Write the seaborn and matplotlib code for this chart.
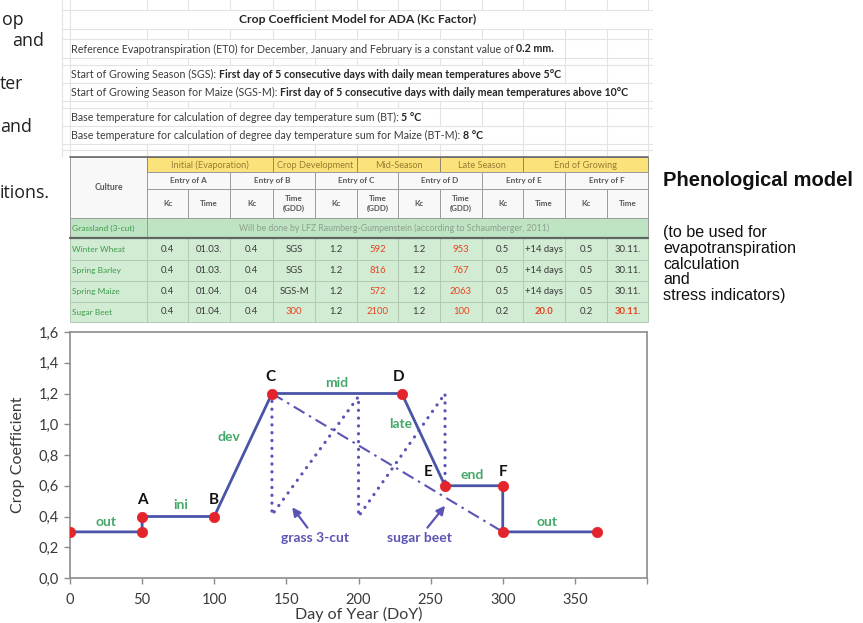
import matplotlib
matplotlib.use("Agg")
import matplotlib.pyplot as plt
import seaborn as sns
import pandas as pd
from matplotlib.patches import Rectangle

sns.set_theme(style="white")
plt.rcParams["font.family"] = ["Lato", "DejaVu Sans"]

# ---------------- Kc curve data ----------------
kc_doy = [0, 50, 50, 100, 140, 230, 260, 300, 300, 365]
kc_val = [0.3, 0.3, 0.4, 0.4, 1.2, 1.2, 0.6, 0.6, 0.3, 0.3]
grass_doy = [140, 140, 200, 200, 260, 260]
grass_val = [1.2, 0.41, 1.18, 0.40, 1.2, 0.6]
beet_doy = [140, 300]
beet_val = [1.2, 0.3]

stage_letters = ["A", "B", "C", "D", "E", "F"]
phase_names = ["out", "ini", "dev", "mid", "late", "end", "out"]
x_ticks = [0, 50, 100, 150, 200, 250, 300, 350, 400]
y_ticks = [0.0, 0.2, 0.4, 0.6, 0.8, 1.0, 1.2, 1.4, 1.6]

# ---------------- spreadsheet content ----------------
sheet_title = "Crop Coefficient Model for ADA (Kc Factor)"
sheet_notes = [
    [("Reference Evapotranspiration (ET0) for December, January and February is a constant value of", False),
     ("0.2 mm.", True)],
    [("Start of Growing Season (SGS):", False),
     ("First day of 5 consecutive days with daily mean temperatures above 5°C", True)],
    [("Start of Growing Season for Maize (SGS-M):", False),
     ("First day of 5 consecutive days with daily mean temperatures above 10°C", True)],
    [("Base temperature for calculation of degree day temperature sum (BT):", False), ("5 °C", True)],
    [("Base temperature for calculation of degree day temperature sum for Maize (BT-M):", False), ("8 °C", True)],
]
phase_headers = ["Initial (Evaporation)", "Crop Development", "Mid-Season", "Late Season", "End of Growing"]
phase_colspan = [3, 2, 2, 2, 3]
entry_headers = ["Entry of A", "Entry of B", "Entry of C", "Entry of D", "Entry of E", "Entry of F"]
sub_headers = ["Kc", "Time", "Kc", "Time\n(GDD)", "Kc", "Time\n(GDD)", "Kc", "Time\n(GDD)",
               "Kc", "Time", "Kc", "Time"]
grassland_name = "Grassland (3-cut)"
grassland_note = "Will be done by LFZ Raumberg-Gumpenstein (according to Schaumberger, 2011)"
cultures = ["Winter Wheat", "Spring Barley", "Spring Maize", "Sugar Beet"]
culture_values = [
    ["0.4", "01.03.", "0.4", "SGS", "1.2", "592", "1.2", "953", "0.5", "+14 days", "0.5", "30.11."],
    ["0.4", "01.03.", "0.4", "SGS", "1.2", "816", "1.2", "767", "0.5", "+14 days", "0.5", "30.11."],
    ["0.4", "01.04.", "0.4", "SGS-M", "1.2", "572", "1.2", "2063", "0.5", "+14 days", "0.5", "30.11."],
    ["0.4", "01.04.", "0.4", "300", "1.2", "2100", "1.2", "100", "0.2", "20.0", "0.2", "30.11."],
]
highlighted = [
    [5, 7], [5, 7], [5, 7], [3, 5, 7, 9, 11],
]

side_title = "Phenological model"
side_lines = ["(to be used for", "evapotranspiration", "calculation", "and", "stress indicators)"]
margin_fragments = ["op", "and", "ter", "and", "itions."]

# ---------------- colours ----------------
BLUE = "#4a55a8"
BLUE2 = "#5a55b5"
RED = "#e3242b"
GREEN = "#45a86a"
GRID = "#e3e3e3"
CELL_EDGE = "#9b9b9b"

fig = plt.figure(figsize=(8.63, 6.23), dpi=100)
bg = fig.add_axes([0, 0, 1, 1])
bg.set_xlim(0, 863)
bg.set_ylim(623, 0)
bg.axis("off")
renderer = fig.canvas.get_renderer()


def text_width(t):
    return t.get_window_extent(renderer=renderer).width


def fitted_size(spans, target):
    """Font size at which a run of (text, bold) spans fills `target` pixels."""
    total = 0.0
    for txt, bold in spans:
        t = bg.text(0, 0, txt, fontsize=10, fontweight="bold" if bold else "normal")
        total += text_width(t)
        t.remove()
    gap = 10 * 100 / 72 * 0.25 * (len(spans) - 1)
    return 10 * target / (total + gap)


def draw_spans(x, y, spans, size, color="#3c3c3c"):
    for txt, bold in spans:
        t = bg.text(x, y, txt, fontsize=size, fontweight="bold" if bold else "normal",
                    color="#262626" if bold else color, va="center", ha="left")
        x += text_width(t) + size * 100 / 72 * 0.25
    return x


# ---------------- spreadsheet block ----------------
col_edges = [70, 147, 188, 230, 273, 315, 357, 398, 440, 482, 523, 565, 607, 648]
sheet_rows = [(10, 29), (29, 39), (39, 58), (58, 65), (65, 83), (83, 101),
              (101, 108), (108, 126), (126, 144), (144, 150), (150, 157)]
note_rows = [2, 4, 5, 7, 8]

note_size = fitted_size(sheet_notes[2], 557)
row_text_end = {}
for spans, r in zip(sheet_notes, note_rows):
    y0, y1 = sheet_rows[r]
    row_text_end[r] = draw_spans(71, (y0 + y1) / 2 + 0.5, spans, note_size)
row_text_end[0] = 9999
bg.text(358, 19.5, sheet_title, fontsize=fitted_size([(sheet_title, True)], 237),
        fontweight="bold", color="#262626", ha="center", va="center")

for r, (y0, y1) in enumerate(sheet_rows):
    bg.plot([62, 652], [y0, y0], color=GRID, lw=0.8, zorder=0)
    for xe in [62] + col_edges:
        if xe > row_text_end.get(r, 0) - 2 or xe <= 70:
            bg.plot([xe, xe], [y0, y1], color=GRID, lw=0.8, zorder=0)
for xe in [62] + col_edges:
    bg.plot([xe, xe], [0, 10], color=GRID, lw=0.8, zorder=0)

# ---------------- table ----------------
row_edges = [157, 172, 189, 218, 238, 260, 281, 302, 322]
HDR_TXT = "#585858"


def cell(x0, x1, y0, y1, face, edge=CELL_EDGE, lw=0.7):
    bg.add_patch(Rectangle((x0, y0), x1 - x0, y1 - y0, facecolor=face, edgecolor=edge, lw=lw, zorder=1))


# culture header
cell(col_edges[0], col_edges[1], row_edges[0], row_edges[3], "#f8f8f8")
bg.text((col_edges[0] + col_edges[1]) / 2, (row_edges[0] + row_edges[3]) / 2, "Culture",
        fontsize=6.2, fontweight="bold", color=HDR_TXT, ha="center", va="center", zorder=2)
# phase headers
c = 1
for name, span in zip(phase_headers, phase_colspan):
    x0, x1 = col_edges[c], col_edges[c + span]
    cell(x0, x1, row_edges[0], row_edges[1], "#fbe27a", edge="#8f8a70")
    bg.text((x0 + x1) / 2, (row_edges[0] + row_edges[1]) / 2 + 0.5, name, fontsize=6.6,
            color="#9a7b32", ha="center", va="center", zorder=2)
    c += span
# entry headers
for i, name in enumerate(entry_headers):
    x0, x1 = col_edges[1 + 2 * i], col_edges[3 + 2 * i]
    cell(x0, x1, row_edges[1], row_edges[2], "#f8f8f8")
    bg.text((x0 + x1) / 2, (row_edges[1] + row_edges[2]) / 2, name, fontsize=5.9,
            fontweight="bold", color=HDR_TXT, ha="center", va="center", zorder=2)
# Kc / Time headers
for i, name in enumerate(sub_headers):
    x0, x1 = col_edges[1 + i], col_edges[2 + i]
    cell(x0, x1, row_edges[2], row_edges[3], "#f8f8f8")
    bg.text((x0 + x1) / 2, (row_edges[2] + row_edges[3]) / 2, name, fontsize=5.8,
            fontweight="bold", color=HDR_TXT, ha="center", va="center", linespacing=1.5, zorder=2)
# grassland row
cell(col_edges[0], col_edges[1], row_edges[3], row_edges[4], "#bfe4c3")
cell(col_edges[1], col_edges[-1], row_edges[3], row_edges[4], "#bfe4c3")
bg.text(col_edges[0] + 2, (row_edges[3] + row_edges[4]) / 2, grassland_name, fontsize=6.0,
        color="#3d9c4c", ha="left", va="center", zorder=2)
bg.text(394, (row_edges[3] + row_edges[4]) / 2, grassland_note,
        fontsize=fitted_size([(grassland_note, False)], 309), color="#8ca08e",
        ha="center", va="center", zorder=2)
# data rows
for r, (name, vals, hl) in enumerate(zip(cultures, culture_values, highlighted)):
    y0, y1 = row_edges[4 + r], row_edges[5 + r]
    yc = (y0 + y1) / 2
    cell(col_edges[0], col_edges[1], y0, y1, "#d2ebd3", edge="#b3c9b4")
    bg.text(col_edges[0] + 2, yc, name, fontsize=6.0, color="#3d9c4c", ha="left", va="center", zorder=2)
    for i, v in enumerate(vals):
        x0, x1 = col_edges[1 + i], col_edges[2 + i]
        cell(x0, x1, y0, y1, "#d2ebd3", edge="#b3c9b4")
        bg.text((x0 + x1) / 2, yc, v, fontsize=6.8, color="#e8431e" if i in hl else "#3a3a3a",
                fontweight="bold" if (r == 3 and i in (9, 11)) else "normal",
                ha="center", va="center", zorder=2)
bg.plot([col_edges[0], col_edges[-1]], [row_edges[0], row_edges[0]], color="#6a6a6a", lw=1.2, zorder=3)
bg.plot([col_edges[0], col_edges[-1]], [row_edges[4], row_edges[4]], color="#5f665f", lw=1.6, zorder=3)

# ---------------- side text ----------------
bg.text(663, 186, side_title, fontsize=14.5, fontweight="bold", color="#111111",
        family=["Liberation Sans", "DejaVu Sans"], ha="left", va="baseline")
for line, yb in zip(side_lines, [237, 253, 269, 284.5, 300]):
    bg.text(663, yb, line, fontsize=11.6, color="#111111",
            family=["Liberation Sans", "DejaVu Sans"], ha="left", va="baseline")
for frag, (xf, yf) in zip(margin_fragments, [(2, 20), (12, 41), (0, 84), (0, 127), (0, 193)]):
    bg.text(xf, yf, frag, fontsize=12.8, color="#202020",
            family=["Open Sans", "DejaVu Sans"], ha="left", va="center")

# ---------------- Kc chart ----------------
ax = fig.add_axes([70 / 863, 45 / 623, 577 / 863, 246 / 623])
curve = pd.DataFrame({"DoY": kc_doy, "Kc": kc_val})
sns.lineplot(x=grass_doy, y=grass_val, sort=False, estimator=None, color=BLUE2, lw=2.3,
             linestyle=(0, (0.05, 2.4)), dash_capstyle="round", ax=ax, zorder=2)
sns.lineplot(x=beet_doy, y=beet_val, sort=False, estimator=None, color=BLUE2, lw=1.5,
             linestyle=(0, (6, 2.5, 1.2, 2.5)), ax=ax, zorder=2)
sns.lineplot(data=curve, x="DoY", y="Kc", sort=False, estimator=None, color=BLUE, lw=2.0,
             ax=ax, zorder=3)
sns.scatterplot(data=curve, x="DoY", y="Kc", color=RED, s=56, edgecolor=RED, linewidth=0.5,
                ax=ax, zorder=4)

ax.set_xlim(0, 400)
ax.set_ylim(0, 1.6)
ax.set_xticks(x_ticks)
ax.set_xticklabels([str(v) if v < 400 else "" for v in x_ticks])
ax.set_yticks(y_ticks)
ax.set_yticklabels([f"{v:.1f}".replace(".", ",") for v in y_ticks])
ax.tick_params(bottom=True, left=True, direction="out", length=4, width=1.0, color="#8c8c8c",
               labelsize=10.5, labelcolor="#3a3a3a", pad=4)
ax.tick_params(axis="x", pad=7)
for sp in ax.spines.values():
    sp.set_visible(True)
    sp.set_color("#8c8c8c")
    sp.set_linewidth(1.2)
ax.set_xlabel("Day of Year (DoY)", fontsize=11.5, color="#3a3a3a", labelpad=0)
ax.set_ylabel("Crop Coefficient", fontsize=11.5, color="#3a3a3a", labelpad=10)

# stage letters at the curve's turning points
letter_pos = [(50, 0.51), (100, 0.51), (139, 1.31), (227.5, 1.31), (248, 0.69), (300, 0.69)]
for name, (x, y) in zip(stage_letters, letter_pos):
    ax.text(x, y, name, fontsize=11, fontweight="bold", color="#111111", ha="center", va="center")
phase_pos = [(25, 0.365), (77, 0.475), (110.5, 0.92), (185, 1.27), (229, 1.0), (279, 0.67), (331, 0.365)]
for name, (x, y) in zip(phase_names, phase_pos):
    ax.text(x, y, name, fontsize=10, fontweight="bold", color=GREEN, ha="center", va="center")

arrow = dict(arrowstyle="-|>,head_length=0.5,head_width=0.25", color=BLUE2, lw=1.6,
             shrinkA=1, shrinkB=0)
ax.annotate("grass 3-cut", xy=(154, 0.46), xytext=(170, 0.26), fontsize=10, fontweight="bold",
            color=BLUE2, ha="center", va="center", arrowprops=arrow)
ax.annotate("sugar beet", xy=(260, 0.47), xytext=(242, 0.26), fontsize=10, fontweight="bold",
            color=BLUE2, ha="center", va="center", arrowprops=arrow)

fig.savefig("out.png", dpi=100)
